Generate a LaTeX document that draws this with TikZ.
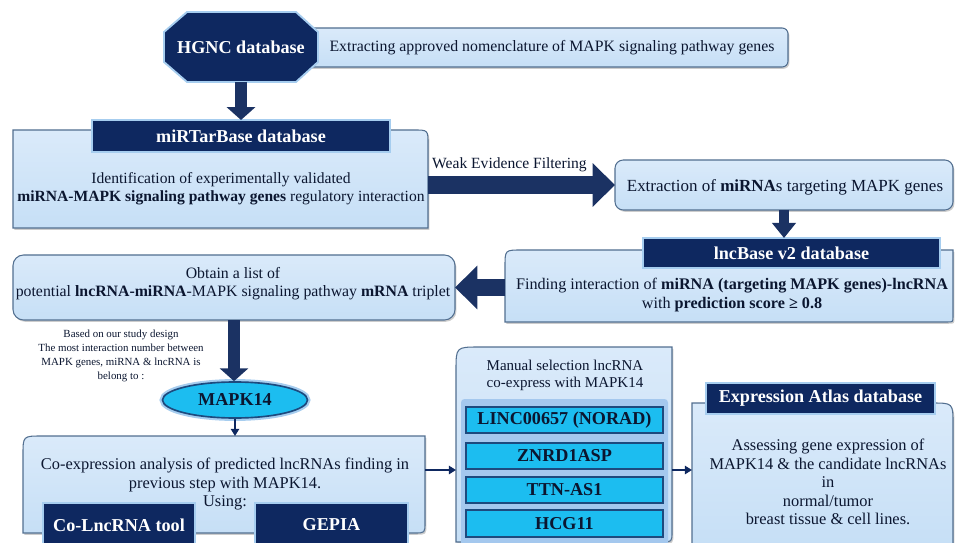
\documentclass[tikz,border=0pt]{standalone}
\usepackage{fontspec}
\setmainfont{Liberation Serif}
\usetikzlibrary{arrows.meta, shapes.geometric, fit, shadows, calc}
\definecolor{navy}{HTML}{0E2860}
\definecolor{glow}{HTML}{A6CDEF}
\definecolor{pale}{HTML}{C6DFF6}
\definecolor{paletop}{HTML}{DAEAFA}
\definecolor{rim}{HTML}{526F90}
\definecolor{cyanfill}{HTML}{1CBDF0}
\definecolor{cyanrim}{HTML}{1D4A7E}
\definecolor{arrowblue}{HTML}{1B3263}
\definecolor{halo}{HTML}{A4C8EE}
\definecolor{ink}{HTML}{0B1630}
\tikzset{
  panel/.style={draw=rim, line width=0.9pt, top color=paletop, bottom color=pale,
      drop shadow={shadow xshift=1.2pt, shadow yshift=-1.5pt, opacity=0.4}},
  box/.style={inner sep=0pt, outer sep=0pt},
  head/.style={box, draw=glow, line width=1.4pt, fill=navy, text=white,
      font=\fontsize{15.5}{17}\selectfont\bfseries},
  tag/.style={box, draw=cyanrim, line width=1pt, fill=cyanfill, text=ink,
      minimum width=5.91cm, font=\fontsize{15.5}{17}\selectfont\bfseries},
  pill/.style={ellipse, draw=cyanrim, line width=1.4pt, fill=cyanfill, text=ink,
      preaction={draw=glow, line width=5pt},
      font=\fontsize{15.5}{17}\selectfont\bfseries},
  body/.style={align=center, inner sep=0pt, text=ink, font=\fontsize{13.5}{15.5}\selectfont},
  fat/.style={draw=arrowblue, line width=10pt, -{Triangle[width=24pt, length=11pt]}},
  wide/.style={draw=arrowblue, line width=16pt, -{Triangle[width=36pt, length=19pt]}},
  link/.style={draw=navy, line width=1.6pt, -{Triangle[width=7pt, length=6pt]}},
}

\begin{document}
\begin{tikzpicture}[x=0.03cm, y=-0.03cm]
  \useasboundingbox (0,0) rectangle (957,543);

  \node[box, panel, rounded corners=5pt, fit={(300,28) (788,67)}] (Ext) {};
  \node[body] (ExtT) at (552,48) {Extracting approved nomenclature of MAPK signaling pathway genes};
  \draw[draw=glow, line width=1.6pt, fill=navy] (187,12) -- (296,12) -- (318,32) -- (318,62)
    -- (296,82) -- (187,82) -- (164,62) -- (164,32) -- cycle;
  \node[box, minimum width=4.62cm, minimum height=2.1cm, text=white,
    font=\fontsize{15.5}{17}\selectfont\bfseries] (HGNC) at (241,47) {HGNC database};

  \node[box, fit={(13,130) (428,228)}] (MTB) {};
  \draw[panel] (MTB.south west) -- (MTB.north west) -- ([xshift=-12pt]MTB.north east)
    .. controls (MTB.north east) .. ([yshift=-12pt]MTB.north east) -- (MTB.south east) -- cycle;
  \node[head, minimum width=8.94cm, minimum height=0.96cm] (MTBh) at (241,136) {miRTarBase database};
  \node[body, font=\fontsize{13.3}{15.5}\selectfont] (MTBt) at (221,189) {Identification of experimentally validated\\
    \textbf{miRNA-MAPK signaling pathway genes} regulatory interaction};
  \draw[fat] (HGNC.south) -- (MTBh.north);

  \node[box, panel, rounded corners=7pt, fit={(615,160) (953,210)}] (Xtr) {};
  \node[body, font=\fontsize{14.5}{16}\selectfont] (XtrT) at (785,187) {Extraction of \textbf{miRNA}s targeting MAPK genes};
  \draw[wide] (MTB.east |- Xtr.west) -- (Xtr.west);
  \node[body, anchor=base west, font=\fontsize{13.3}{15}\selectfont] (weak) at (432,169) {Weak Evidence Filtering};

  \node[box, fit={(505,250) (953,322)}] (LNC) {};
  \draw[panel] ([yshift=-14pt]LNC.north west) .. controls (LNC.north west) .. ([xshift=14pt]LNC.north west)
    -- (LNC.north east) -- ([yshift=5pt]LNC.south east) .. controls (LNC.south east) .. ([xshift=-5pt]LNC.south east)
    -- (LNC.south west) -- cycle;
  \node[head, minimum width=8.91cm, minimum height=0.9cm] (LNCh) at (791.5,253) {lncBase v2 database};
  \node[body, font=\fontsize{13.8}{16}\selectfont] (LNCt) at (732,295) {Finding interaction of \textbf{miRNA (targeting MAPK genes)-lncRNA}\\
    with \textbf{prediction score ≥ 0.8}};
  \draw[fat, line width=9pt, -{Triangle[width=20pt, length=13pt]}] (Xtr.south) -- (Xtr.south |- LNCh.north);

  \node[box, panel, rounded corners=9pt, fit={(13,255) (455,320)}] (OBT) {};
  \node[body] (OBTt) at (233,284) {Obtain a list of\\
    potential \textbf{lncRNA-miRNA}-MAPK signaling pathway \textbf{mRNA} triplet};
  \draw[wide, line width=15pt] (LNC.west |- OBT.east) -- (OBT.east);

  \node[body, font=\fontsize{9.3}{12}\selectfont] (note) at (121,356) {Based on our study design\\
    The most interaction number between\\ MAPK genes, miRNA \& lncRNA is\\ belong to :};

  \node[pill, minimum width=4.35cm, minimum height=1.08cm] (MK) at (235,400) {MAPK14};
  \draw[fat] (OBT.south) -- (OBT.south |- MK.north);

  \node[box, fit={(23,436) (425,533)}] (COX) {};
  \draw[panel] (COX.south west) -- ([yshift=-16pt]COX.north west) .. controls (COX.north west) .. ([xshift=16pt]COX.north west)
    -- (COX.north east) -- ([yshift=9pt]COX.south east) .. controls (COX.south east) .. ([xshift=-9pt]COX.south east) -- cycle;
  \node[body, font=\fontsize{14}{16.2}\selectfont] (COXt) at (225,484) {Co-expression analysis of predicted lncRNAs finding in\\
    previous step with MAPK14.\\ Using:};
  \node[head, minimum width=4.56cm, minimum height=1.32cm] (CLT) at (119,525) {Co-LncRNA tool};
  \node[head, minimum width=4.59cm, minimum height=1.32cm] (GEP) at (331.5,525) {GEPIA};
  \draw[link] (MK.south) -- (MK.south |- COX.north);

  \node[box, fit={(456,347) (672,542)}] (MAN) {};
  \draw[panel] (MAN.south west) -- ([yshift=-20pt]MAN.north west) .. controls (MAN.north west) .. ([xshift=20pt]MAN.north west)
    -- (MAN.north east) -- ([yshift=9pt]MAN.south east) .. controls (MAN.south east) .. ([xshift=-9pt]MAN.south east) -- cycle;
  \fill[halo, rounded corners=3pt] (461,399) rectangle (668,548);
  \node[body, font=\fontsize{12.8}{14.5}\selectfont] (MANt) at (565,375) {Manual selection lncRNA\\ co-express with MAPK14};
  \node[tag, minimum height=0.78cm] (L1) at (564.5,420) {LINC00657 (NORAD)};
  \node[tag, minimum height=0.78cm] (L2) at (564.5,456) {ZNRD1ASP};
  \node[tag, minimum height=0.78cm] (L3) at (564.5,490) {TTN-AS1};
  \node[tag, minimum height=0.81cm] (L4) at (564.5,523.5) {HCG11};

  \node[box, fit={(692,403) (953,548)}] (EXP) {};
  \draw[panel] (EXP.south west) -- (EXP.north west) -- ([xshift=-18pt]EXP.north east)
    .. controls (EXP.north east) .. ([yshift=-18pt]EXP.north east) -- (EXP.south east) -- cycle;
  \node[head, minimum width=6.87cm, minimum height=0.93cm] (EXPh) at (820.5,398.5) {Expression Atlas database};
  \node[body, font=\fontsize{14}{15.8}\selectfont] (EXPt) at (828,482) {Assessing gene expression of\\ MAPK14 \& the candidate lncRNAs\\
    in\\ normal/tumor\\ breast tissue \& cell lines.};

  \coordinate (lane) at (0,470);
  \draw[link] (COX.east |- lane) -- (MAN.west |- lane);
  \draw[link] (MAN.east |- lane) -- (EXP.west |- lane);
\end{tikzpicture}
\end{document}
